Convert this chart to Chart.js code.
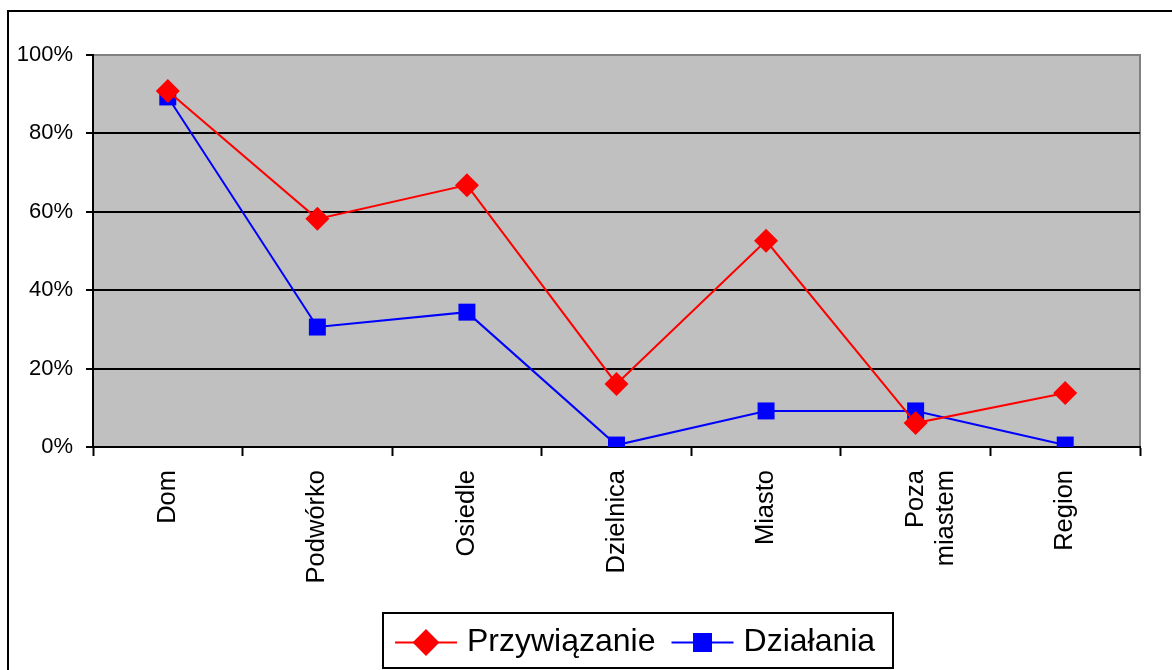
<!DOCTYPE html>
<html>
<head>
<meta charset="utf-8">
<script src="https://cdn.jsdelivr.net/npm/chart.js@4"></script>
<style>
  html, body { margin: 0; padding: 0; background: #fff; }
  #wrap { width: 1172px; height: 670px; }
</style>
</head>
<body>
<div id="wrap"><canvas id="MyChart" width="1172" height="670"></canvas></div>
<script>
var categories = ['Dom', 'Podwórko', 'Osiedle', 'Dzielnica', 'Miasto', ['Poza', 'miastem'], 'Region'];
var przywiazanie = [90.8, 58.2, 66.8, 16.1, 52.6, 6.1, 13.8];
var dzialania = [89.3, 30.6, 34.4, 0.5, 9.2, 9.2, 0.5];
var yTicks = [0, 20, 40, 60, 80, 100];

var FONT = '"Liberation Sans", Arial, sans-serif';

// ramka wykresu i tło obszaru kreślenia
var framePlugin = {
    id: 'frame',
    beforeDraw: function (chart) {
        var ctx = chart.ctx;
        var a = chart.chartArea;
        ctx.save();
        ctx.fillStyle = '#fff';
        ctx.fillRect(0, 0, chart.width, chart.height);
        ctx.strokeStyle = '#000';
        ctx.lineWidth = 2;
        ctx.strokeRect(8, 11, chart.width + 20, chart.height + 20);
        ctx.fillStyle = '#c0c0c0';
        ctx.fillRect(a.left, a.top, a.right - a.left, a.bottom - a.top);
        ctx.strokeStyle = '#808080';
        ctx.lineWidth = 2;
        ctx.strokeRect(a.left, a.top, a.right - a.left, a.bottom - a.top);
        ctx.restore();
    }
};

// legenda w ramce pod wykresem
var legendPlugin = {
    id: 'boxLegend',
    afterDraw: function (chart) {
        var ctx = chart.ctx;
        var x0 = 383, y0 = 613, w = 510, h = 55;
        var cy = y0 + h / 2 + 2;
        ctx.save();
        ctx.fillStyle = '#fff';
        ctx.fillRect(x0, y0, w, h);
        ctx.strokeStyle = '#000';
        ctx.lineWidth = 2;
        ctx.strokeRect(x0, y0, w, h);
        ctx.font = '32px ' + FONT;
        ctx.textBaseline = 'middle';
        var x = x0 + 12;
        chart.data.datasets.forEach(function (ds, i) {
            ctx.strokeStyle = ds.borderColor;
            ctx.lineWidth = 2;
            ctx.beginPath();
            ctx.moveTo(x, cy);
            ctx.lineTo(x + 62, cy);
            ctx.stroke();
            Chart.helpers.drawPoint(ctx, {
                pointStyle: ds.pointStyle,
                radius: ds.pointRadius,
                borderWidth: 1
            }, x + 31, cy);
            ctx.fillStyle = ds.backgroundColor;
            ctx.strokeStyle = ds.borderColor;
            ctx.fill();
            ctx.fillStyle = '#000';
            ctx.fillText(ds.label, x + 72, cy);
            x += 72 + ctx.measureText(ds.label).width + 16;
        });
        ctx.restore();
    }
};

var ctx = document.getElementById('MyChart').getContext('2d');
var MyChart = new Chart(ctx, {
    type: 'line',
    data: {
        labels: categories,
        datasets: [{
            label: 'Przywiązanie',
            data: przywiazanie,
            borderColor: '#ff0000',
            backgroundColor: '#ff0000',
            borderWidth: 2,
            pointStyle: 'rectRot',
            pointRadius: 12,
            pointHoverRadius: 12,
            pointBorderWidth: 0,
            tension: 0
        }, {
            label: 'Działania',
            data: dzialania,
            borderColor: '#0000ff',
            backgroundColor: '#0000ff',
            borderWidth: 2,
            pointStyle: 'rect',
            pointRadius: 12,
            pointHoverRadius: 12,
            pointBorderWidth: 0,
            tension: 0
        }]
    },
    options: {
        responsive: false,
        animation: false,
        events: [],
        layout: { padding: { top: 55, right: 32, left: 0, bottom: 0 } },
        plugins: {
            legend: { display: false },
            tooltip: { enabled: false }
        },
        scales: {
            x: {
                offset: true,
                grid: {
                    offset: true,
                    drawOnChartArea: false,
                    drawTicks: true,
                    tickLength: 9,
                    tickColor: '#000',
                    tickWidth: 2
                },
                border: { color: '#000', width: 2 },
                ticks: {
                    minRotation: 90,
                    maxRotation: 90,
                    autoSkip: false,
                    padding: 14,
                    color: '#000',
                    font: { family: FONT, size: 25.5 }
                },
                afterFit: function (scale) { scale.height = 223; }
            },
            y: {
                min: 0,
                max: 100,
                afterBuildTicks: function (scale) {
                    scale.ticks = yTicks.map(function (v) { return { value: v }; });
                },
                grid: {
                    color: function (c) { return c.tick && c.tick.value === 100 ? '#808080' : '#000'; },
                    lineWidth: 2,
                    tickLength: 7,
                    tickColor: '#000',
                    tickWidth: 2
                },
                border: { color: '#000', width: 2 },
                ticks: {
                    padding: 13,
                    color: '#000',
                    font: { family: FONT, size: 22 },
                    callback: function (v) { return v + '%'; }
                },
                afterFit: function (scale) { scale.width = 93; }
            }
        }
    },
    plugins: [framePlugin, legendPlugin]
});
</script>
</body>
</html>
